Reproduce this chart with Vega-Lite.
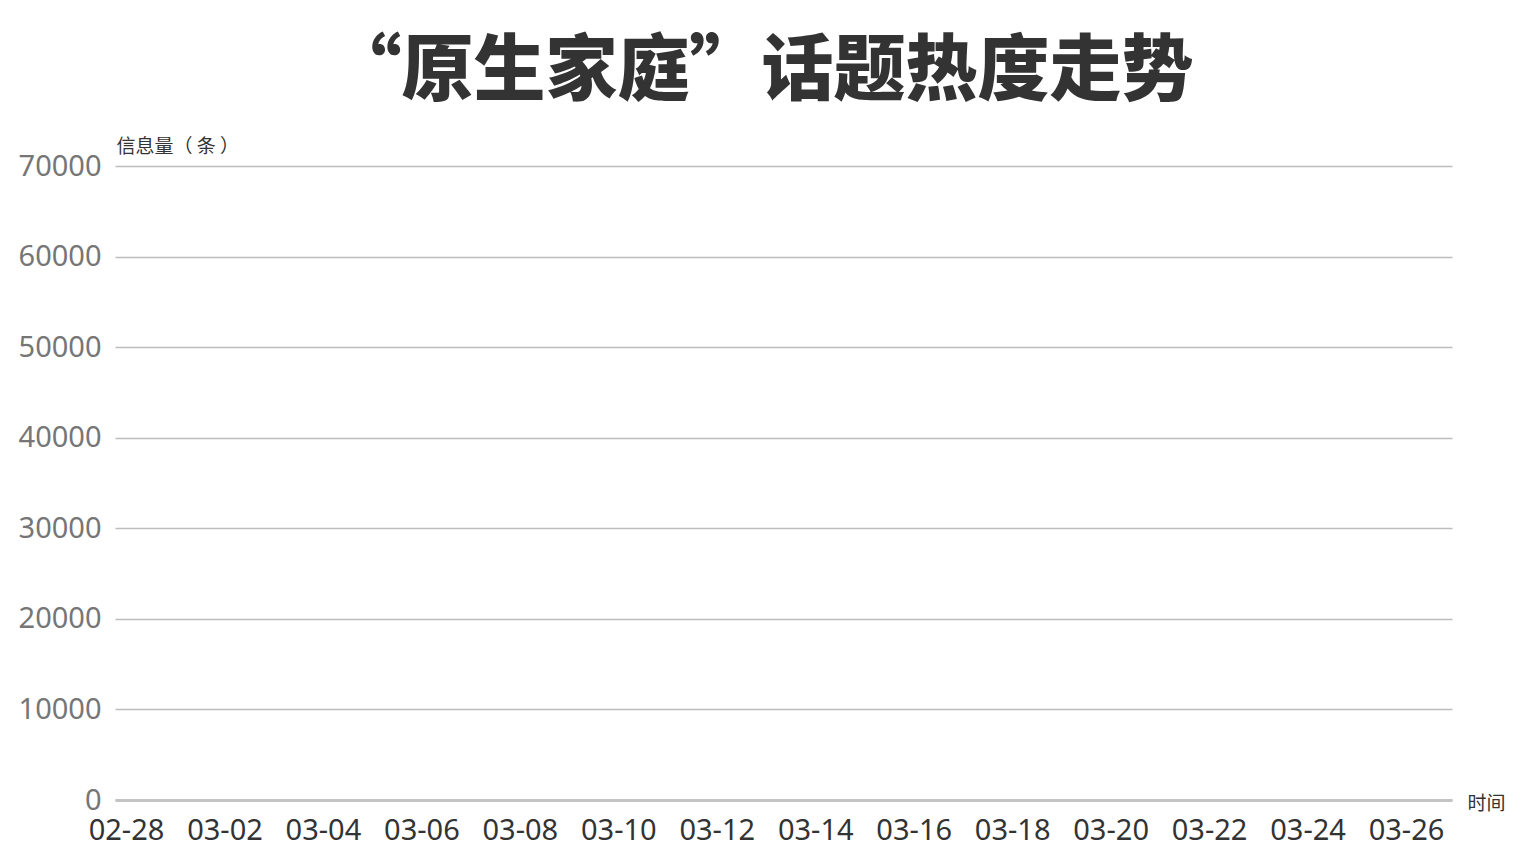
{
  "$schema": "https://vega.github.io/schema/vega-lite/v6.json",
  "width": 1337,
  "height": 634,
  "autosize": {"type": "none"},
  "padding": {"left": 115, "top": 166, "right": 84, "bottom": 64},
  "background": "#ffffff",
  "title": {
    "text": "“原生家庭”话题热度走势",
    "font": "Noto Sans CJK SC",
    "fontSize": 72,
    "fontWeight": 900,
    "color": "#333333",
    "anchor": "middle",
    "dx": -22,
    "offset": 28
  },
  "data": {
    "values": [
      {"date": "2018-02-28", "value": null},
      {"date": "2018-03-01", "value": null},
      {"date": "2018-03-02", "value": null},
      {"date": "2018-03-03", "value": null},
      {"date": "2018-03-04", "value": null},
      {"date": "2018-03-05", "value": null},
      {"date": "2018-03-06", "value": null},
      {"date": "2018-03-07", "value": null},
      {"date": "2018-03-08", "value": null},
      {"date": "2018-03-09", "value": null},
      {"date": "2018-03-10", "value": null},
      {"date": "2018-03-11", "value": null},
      {"date": "2018-03-12", "value": null},
      {"date": "2018-03-13", "value": null},
      {"date": "2018-03-14", "value": null},
      {"date": "2018-03-15", "value": null},
      {"date": "2018-03-16", "value": null},
      {"date": "2018-03-17", "value": null},
      {"date": "2018-03-18", "value": null},
      {"date": "2018-03-19", "value": null},
      {"date": "2018-03-20", "value": null},
      {"date": "2018-03-21", "value": null},
      {"date": "2018-03-22", "value": null},
      {"date": "2018-03-23", "value": null},
      {"date": "2018-03-24", "value": null},
      {"date": "2018-03-25", "value": null},
      {"date": "2018-03-26", "value": null}
    ]
  },
  "mark": {"type": "line", "color": "#e0504a", "strokeWidth": 3},
  "encoding": {
    "x": {
      "field": "date",
      "type": "temporal",
      "scale": {
        "type": "utc",
        "domain": [
          {"utc": true, "year": 2018, "month": 2, "date": 27, "hours": 18, "minutes": 38},
          {"utc": true, "year": 2018, "month": 3, "date": 26, "hours": 22, "minutes": 25}
        ]
      },
      "axis": {
        "values": [
          {"utc": true, "year": 2018, "month": 2, "date": 28},
          {"utc": true, "year": 2018, "month": 3, "date": 2},
          {"utc": true, "year": 2018, "month": 3, "date": 4},
          {"utc": true, "year": 2018, "month": 3, "date": 6},
          {"utc": true, "year": 2018, "month": 3, "date": 8},
          {"utc": true, "year": 2018, "month": 3, "date": 10},
          {"utc": true, "year": 2018, "month": 3, "date": 12},
          {"utc": true, "year": 2018, "month": 3, "date": 14},
          {"utc": true, "year": 2018, "month": 3, "date": 16},
          {"utc": true, "year": 2018, "month": 3, "date": 18},
          {"utc": true, "year": 2018, "month": 3, "date": 20},
          {"utc": true, "year": 2018, "month": 3, "date": 22},
          {"utc": true, "year": 2018, "month": 3, "date": 24},
          {"utc": true, "year": 2018, "month": 3, "date": 26}
        ],
        "labelExpr": "utcFormat(datum.value, '%m-%d')",
        "title": "时间",
        "titleFont": "Noto Sans CJK SC",
        "titleFontSize": 19,
        "titleFontWeight": "normal",
        "titleColor": "#333333",
        "titleAngle": 0,
        "titleAlign": "left",
        "titleBaseline": "middle",
        "titleX": 1352,
        "titleY": 3,
        "grid": false,
        "ticks": false,
        "domain": true,
        "domainColor": "#c4c4c4",
        "domainWidth": 3,
        "labelFont": "Noto Sans",
        "labelFontSize": 29,
        "labelColor": "#333333",
        "labelPadding": 16,
        "labelAngle": 0,
        "labelFlush": false,
        "labelOverlap": false
      }
    },
    "y": {
      "field": "value",
      "type": "quantitative",
      "scale": {"domain": [0, 70000], "nice": false, "zero": true},
      "axis": {
        "values": [0, 10000, 20000, 30000, 40000, 50000, 60000, 70000],
        "format": "d",
        "title": "信息量（ 条 ）",
        "titleFont": "Noto Sans CJK SC",
        "titleFontSize": 19,
        "titleFontWeight": "normal",
        "titleColor": "#333333",
        "titleAngle": 0,
        "titleAlign": "left",
        "titleBaseline": "middle",
        "titleX": 1,
        "titleY": -20,
        "grid": true,
        "gridColor": "#bdbdbd",
        "gridWidth": 1.5,
        "ticks": false,
        "domain": false,
        "labelFont": "Noto Sans",
        "labelFontSize": 29,
        "labelColor": "#767676",
        "labelPadding": 14,
        "labelFlush": false
      }
    }
  },
  "config": {"view": {"stroke": null}}
}
